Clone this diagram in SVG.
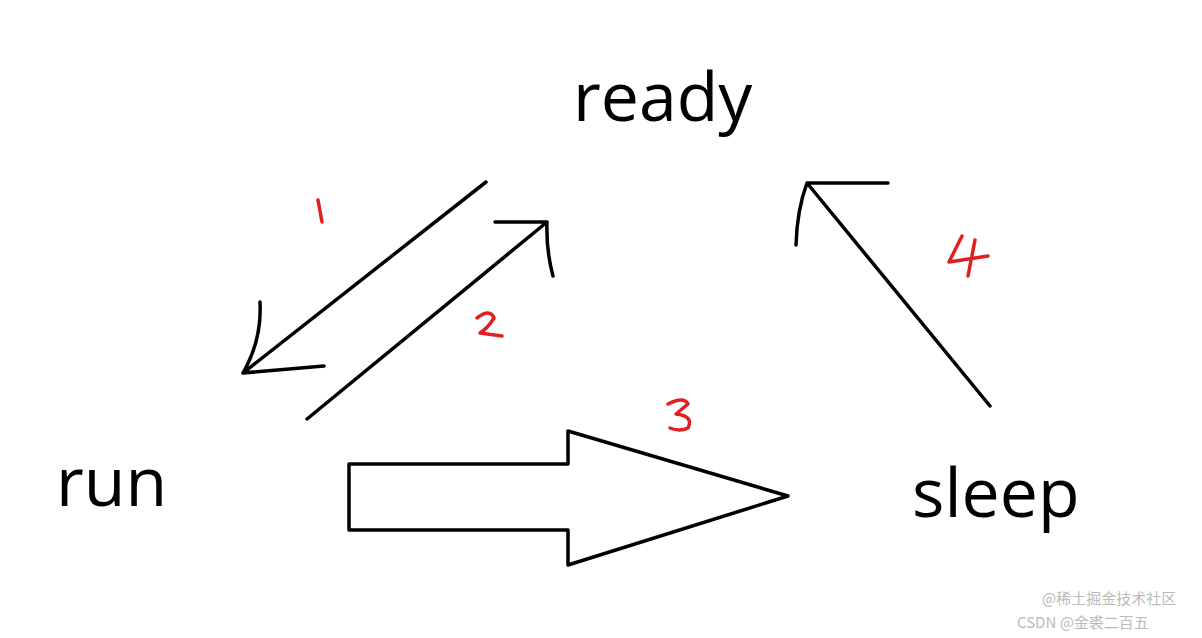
<svg xmlns="http://www.w3.org/2000/svg" width="1202" height="638" viewBox="0 0 1202 638">
<style>
.lbl{font-family:"Open Sans","Noto Sans",sans-serif;font-size:68px;fill:#000}
.ln{stroke:#000;stroke-width:3.5;fill:none;stroke-linecap:round;stroke-linejoin:round}
.num{stroke:#e02020;stroke-width:3.5;fill:none;stroke-linecap:round;stroke-linejoin:round}
.wm{font-family:"Noto Sans CJK SC",sans-serif;font-size:15px;fill:#bbb}
</style>
<rect width="1202" height="638" fill="#fff"/>
<g id="ready"><text class="lbl" x="573" y="121">ready</text></g>
<g id="run"><text class="lbl" x="56" y="506">run</text></g>
<g id="sleep"><text class="lbl" x="912" y="517">sleep</text></g>
<g id="connectors">
<path class="ln" d="M486 182 L243 373 M260 302 Q262 340 243 373 L324 366"/>
<path class="ln" d="M307 419 L547 222 M495 222 L547 222 Q546 250 553 276"/>
<path class="ln" d="M349 464 L568 464 L568 431 L788 496 L568 565 L568 530 L349 530 Z" stroke-width="3"/>
<path class="ln" d="M990 406 L807 183 M888 183 L807 183 Q797 210 796 245"/>
</g>
<g id="labels">
<path class="num" d="M318 200 L322 222"/>
<path class="num" d="M477 318 Q490 308 494 318 Q488 328 480 333 L502 336"/>
<path class="num" d="M668 404 Q684 396 688 404 L676 414 Q694 416 688 428 Q680 432 670 428"/>
<path class="num" d="M962 236 L949 262 L988 256 M975 240 L968 276"/>
</g>
<g id="watermark">
<text class="wm" x="1042" y="604">@稀土掘金技术社区</text>
<text class="wm" x="1017" y="628">CSDN @金裘二百五</text>
</g>
</svg>
